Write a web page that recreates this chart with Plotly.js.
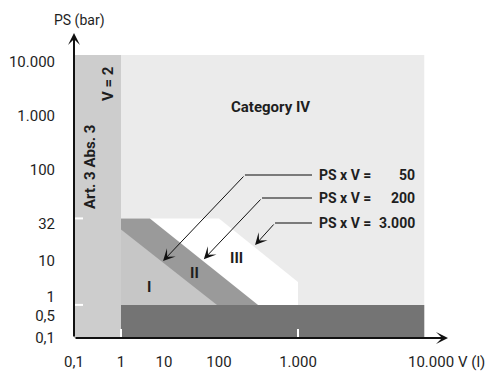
<!DOCTYPE html>
<html><head><meta charset="utf-8">
<script src="https://cdn.plot.ly/plotly-3.0.1.min.js"></script>
<style>html,body{margin:0;padding:0;background:#fff}#chart{width:488px;height:372px}</style>
</head><body><div id="chart"></div>
<script>
// ---- data (V in litres, PS in bar) ----
const xTickValues = [0.1, 1, 10, 100, 1000, 10000];
const xTickLabels = ['0,1', '1', '10', '100', '1.000', '10.000'];
const xUnitLabel = 'V (l)';
const yTickValues = [0.1, 0.5, 1, 10, 32, 100, 1000, 10000];
const yTickLabels = ['0,1', '0,5', '1', '10', '32', '100', '1.000', '10.000'];
const yUnitLabel = 'PS (bar)';

const art3V  = [0.1, 1, 1, 0.1];
const art3PS = [0.1, 0.1, 13500, 13500];
const cat4V  = [1, 8900, 8900, 1];
const cat4PS = [0.1, 0.1, 13500, 13500];
const cat3V  = [1, 100, 1000, 1000, 1];
const cat3PS = [36, 36, 2.6, 0.75, 0.75];
const cat2V  = [1, 4.7, 312, 1];
const cat2PS = [36, 36, 0.75, 0.75];
const cat1V  = [1, 92, 1];
const cat1PS = [27, 0.75, 0.75];
const bandV  = [1, 8900, 8900, 1];
const bandPS = [0.1, 0.1, 0.75, 0.75];

const leaderValues = ['50', '200', '3.000'];
const leaderTipV   = [9.5, 53, 286];
const leaderTipPS  = [10, 10.6, 16.5];
const leaderBendV  = [213, 350, 512];
const leaderBendPS = [90, 55.4, 32.7];
const leaderEndV   = 1275;

const tickMarkV  = [1, 1000];
const tickMarkPS = [36, 0.75];

// ---- schematic axis layout (non-uniform decades, as drawn) ----
const X_STOPS = [0, 47, 90, 145, 224, 357];
const Y_STOPS = [0, 22, 41, 77, 114, 168, 222, 276];
const X_LEN = 378, Y_LEN = 305;
const ML = 74, MT = 33;

function warp(v, vals, stops) {
  const L = Math.log10(v), Ls = vals.map(Math.log10);
  let i = 0;
  while (i < Ls.length - 2 && L > Ls[i + 1]) i++;
  return stops[i] + (L - Ls[i]) / (Ls[i + 1] - Ls[i]) * (stops[i + 1] - stops[i]);
}
const wx = v => warp(v, xTickValues, X_STOPS);
const wy = v => warp(v, yTickValues, Y_STOPS);

const FONT = 'Roboto, "Liberation Sans", sans-serif';
const TXT = '#1e1e1e';
const FS = 15;

function poly(V, PS, color) {
  return {type: 'scatter', mode: 'lines', x: V.map(wx), y: PS.map(wy), fill: 'toself',
    fillcolor: color, line: {width: 0, color: color}, hoverinfo: 'skip', showlegend: false};
}
const traces = [
  poly(cat4V, cat4PS, '#ebebeb'),
  poly(art3V, art3PS, '#cdcdcd'),
  poly(cat3V, cat3PS, '#ffffff'),
  poly(cat2V, cat2PS, '#9a9a9a'),
  poly(cat1V, cat1PS, '#c6c6c6'),
  poly(bandV, bandPS, '#747474')
];

// paper position helper for text labels (pixel in the 488x372 frame)
const P = (px, py) => ({x: (px - ML) / X_LEN, y: (MT + Y_LEN - py) / Y_LEN, xref: 'paper', yref: 'paper'});
function txt(px, py, text, opts) {
  return Object.assign(P(px, py), {text: text, showarrow: false, xanchor: 'center', yanchor: 'middle',
    font: {family: FONT, size: FS, color: TXT}}, opts || {});
}

const annotations = [
  // axes with arrowheads
  {x: 0, y: Y_LEN, ax: 0, ay: 0, axref: 'x', ayref: 'y', xref: 'x', yref: 'y', text: '',
   showarrow: true, arrowhead: 3, arrowwidth: 2, arrowsize: 1, arrowcolor: '#111', standoff: 0},
  {x: X_LEN - 4, y: 0, ax: 0, ay: 0, axref: 'x', ayref: 'y', xref: 'x', yref: 'y', text: '',
   showarrow: true, arrowhead: 3, arrowwidth: 2, arrowsize: 1, arrowcolor: '#111', standoff: 0},
  txt(79, 20, yUnitLabel, {font: {family: FONT, size: 14, color: TXT}}),
  txt(487, 362, xUnitLabel, {xanchor: 'right'}),
  txt(270, 107, '<b>Category IV</b>'),
  txt(108, 84, '<b>V = 2</b>', {textangle: -90}),
  txt(90, 167, '<b>Art. 3 Abs. 3</b>', {textangle: -90}),
  txt(149, 287, '<b>I</b>'),
  txt(194, 273, '<b>II</b>'),
  txt(236, 258, '<b>III</b>')
];

const shapes = [];
leaderValues.forEach((val, i) => {
  annotations.push({x: wx(leaderTipV[i]), y: wy(leaderTipPS[i]), ax: wx(leaderBendV[i]), ay: wy(leaderBendPS[i]),
    axref: 'x', ayref: 'y', xref: 'x', yref: 'y', text: '', showarrow: true,
    arrowhead: 3, arrowwidth: 1, arrowsize: 2, arrowcolor: '#111', standoff: 0});
  shapes.push({type: 'line', xref: 'x', yref: 'y', x0: wx(leaderBendV[i]), x1: wx(leaderEndV),
    y0: wy(leaderBendPS[i]), y1: wy(leaderBendPS[i]), line: {color: '#555', width: 1.5}});
  annotations.push({xref: 'x', yref: 'y', x: wx(leaderEndV) + 5, y: wy(leaderBendPS[i]), xanchor: 'left', yanchor: 'middle',
    text: '<b>PS x V =</b>', showarrow: false, font: {family: FONT, size: 14, color: TXT}});
  annotations.push({xref: 'x', yref: 'y', x: 343, y: wy(leaderBendPS[i]), xanchor: 'right', yanchor: 'middle',
    text: '<b>' + val + '</b>', showarrow: false, font: {family: FONT, size: 14, color: TXT}});
});
// small white boundary ticks on the axes
tickMarkPS.forEach(p => shapes.push({type: 'line', xref: 'x', yref: 'y', xsizemode: 'pixel', xanchor: 0,
  x0: 0, x1: 9, y0: wy(p), y1: wy(p), line: {color: '#fff', width: 2}, layer: 'above'}));
tickMarkV.forEach(v => shapes.push({type: 'line', xref: 'x', yref: 'y', ysizemode: 'pixel', yanchor: 0,
  y0: 1, y1: 9, x0: wx(v), x1: wx(v), line: {color: '#fff', width: 2}, layer: 'above'}));

const layout = {
  width: 488, height: 372,
  margin: {l: ML, r: 488 - ML - X_LEN, t: MT, b: 372 - MT - Y_LEN, pad: 0},
  paper_bgcolor: '#fff', plot_bgcolor: '#fff',
  showlegend: false,
  xaxis: {range: [0, X_LEN], tickvals: xTickValues.map(wx), ticktext: xTickLabels,
    showgrid: false, zeroline: false, showline: false, ticks: 'outside', ticklen: 10,
    tickcolor: 'rgba(0,0,0,0)', tickfont: {family: FONT, size: FS, color: TXT},
    ticklabeloverflow: 'allow', fixedrange: true},
  yaxis: {range: [0, Y_LEN], tickvals: yTickValues.map(wy), ticktext: yTickLabels,
    showgrid: false, zeroline: false, showline: false, ticks: 'outside', ticklen: 15,
    tickcolor: 'rgba(0,0,0,0)', tickfont: {family: FONT, size: FS, color: TXT},
    ticklabeloverflow: 'allow', fixedrange: true},
  shapes: shapes,
  annotations: annotations
};

Plotly.newPlot('chart', traces, layout, {staticPlot: true, displayModeBar: false});
</script>
</body></html>
